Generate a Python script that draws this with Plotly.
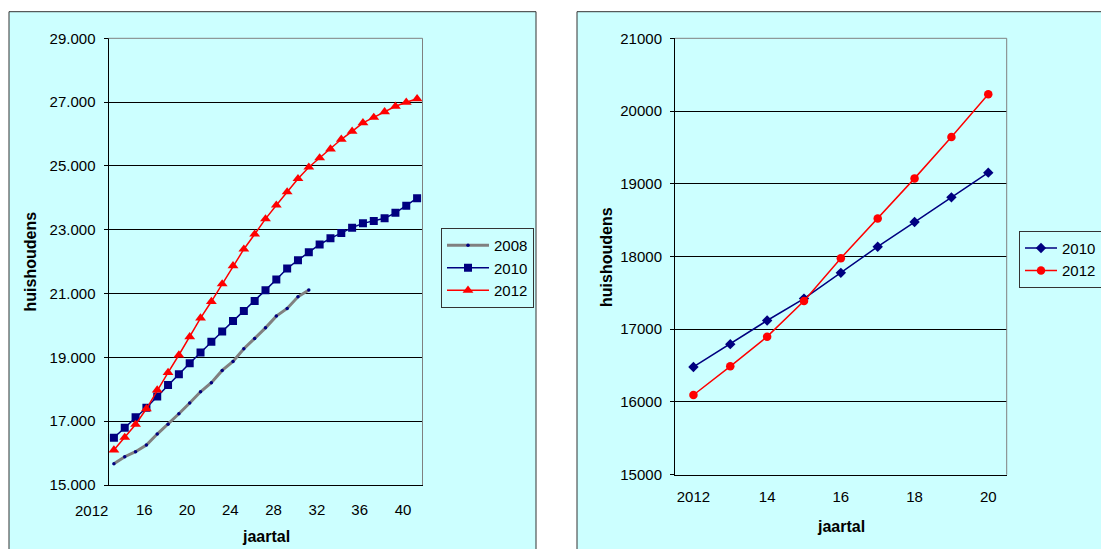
import plotly.graph_objects as go

W, H = 1109, 549
OX, OY = 8, 8   # the page places the figure 8px in from the top-left corner

# ---------------- data ----------------
years_long = list(range(2012, 2041))          # 2012 .. 2040
years_short = list(range(2012, 2021))         # 2012 .. 2020

hh_2008 = [15667, 15886, 16043, 16253, 16597, 16901, 17233, 17568, 17922, 18204,
           18592, 18874, 19269, 19594, 19926, 20293, 20534, 20897, 21110]
hh_2010 = [16481, 16795, 17120, 17421, 17775, 18135, 18474, 18813, 19153, 19488,
           19810, 20136, 20455, 20763, 21107, 21442, 21786, 22047, 22297, 22538,
           22730, 22900, 23065, 23200, 23275, 23360, 23530, 23750, 23990]
hh_2012 = [16096, 16490, 16898, 17389, 17977, 18523, 19074, 19644, 20231, 20750,
           21300, 21870, 22390, 22860, 23340, 23770, 24185, 24600, 24960, 25250,
           25530, 25835, 26085, 26350, 26520, 26695, 26870, 26995, 27105]

left_first_label = "2012"
left_tick_text = ["16", "20", "24", "28", "32", "36", "40"]
right_tick_text = ["2012", "14", "16", "18", "20"]

# ---------------- styling constants ----------------
FONT = "Liberation Sans, Arial, sans-serif"
CYAN = "#CCFFFF"
NAVY = "#000080"
RED = "#FF0000"
GRAY = "#808080"


def fx(p):
    return (p - OX) / W


def fy(p):
    return 1 - (p - OY) / H


fig = go.Figure()

# left chart
fig.add_trace(go.Scatter(x=years_long[:len(hh_2008)], y=hh_2008, name="2008",
                         mode="lines+markers", xaxis="x", yaxis="y",
                         line=dict(color=GRAY, width=3),
                         marker=dict(symbol="circle", size=3.5, color=NAVY),
                         legend="legend"))
fig.add_trace(go.Scatter(x=years_long, y=hh_2010, name="2010",
                         mode="lines+markers", xaxis="x", yaxis="y",
                         line=dict(color=NAVY, width=1.5),
                         marker=dict(symbol="square", size=8, color=NAVY),
                         legend="legend"))
fig.add_trace(go.Scatter(x=years_long, y=hh_2012, name="2012",
                         mode="lines+markers", xaxis="x", yaxis="y",
                         line=dict(color=RED, width=1.5),
                         marker=dict(symbol="triangle-up", size=9.5, color=RED),
                         legend="legend"))

# right chart
fig.add_trace(go.Scatter(x=years_short, y=hh_2010[:len(years_short)], name="2010",
                         mode="lines+markers", xaxis="x2", yaxis="y2",
                         line=dict(color=NAVY, width=1.5),
                         marker=dict(symbol="diamond", size=8, color=NAVY),
                         legend="legend2"))
fig.add_trace(go.Scatter(x=years_short, y=hh_2012[:len(years_short)], name="2012",
                         mode="lines+markers", xaxis="x2", yaxis="y2",
                         line=dict(color=RED, width=1.5),
                         marker=dict(symbol="circle", size=8.5, color=RED),
                         legend="legend2"))

tickfont = dict(family=FONT, size=15, color="#000000")

left_dom_x = [fx(108.5), fx(422.5)]
right_dom_x = [fx(675), fx(1006.7)]
left_range = [years_long[0] - 0.5, years_long[-1] + 0.5]
right_range = [years_short[0] - 0.5, years_short[-1] + 0.5]

left_label_pos = [2014.8, 2018.75, 2022.75, 2026.75, 2030.75, 2034.7, 2038.7]

fig.update_layout(
    width=W, height=H, autosize=False,
    margin=dict(l=0, r=0, t=0, b=0, pad=0, autoexpand=False),
    paper_bgcolor="white", plot_bgcolor=CYAN,
    separators=",.",
    font=dict(family=FONT, size=15, color="#000000"),
    xaxis=dict(domain=left_dom_x, anchor="y", range=left_range,
               tickmode="array", tickvals=left_label_pos, ticktext=left_tick_text,
               ticks="", tickangle=0, showline=True, linecolor="#000000", linewidth=1,
               showgrid=False, zeroline=False, tickfont=tickfont,
               ticklabelstandoff=11, automargin=False),
    xaxis3=dict(overlaying="x", anchor="y", side="bottom", range=left_range,
                tickmode="linear", tick0=left_range[0], dtick=1,
                ticks="outside", ticklen=4, tickcolor="#000000", tickwidth=1,
                showticklabels=False, showline=False, showgrid=False, zeroline=False,
                automargin=False),
    yaxis=dict(domain=[fy(485), fy(38.3)], anchor="x", range=[15000, 29000],
               tickmode="linear", tick0=15000, dtick=2000, tickformat=",d",
               ticks="outside", ticklen=4, tickcolor="#000000",
               showline=True, linecolor="#000000", linewidth=1,
               showgrid=True, gridcolor="#000000", gridwidth=1, zeroline=False,
               tickfont=tickfont, ticklabelstandoff=5, automargin=False),
    xaxis2=dict(domain=right_dom_x, anchor="y2", range=right_range,
                tickmode="array", tickvals=years_short[::2], ticktext=right_tick_text,
                ticks="", tickangle=0, showline=True, linecolor="#000000", linewidth=1,
                showgrid=False, zeroline=False, tickfont=tickfont,
                ticklabelstandoff=8, automargin=False),
    xaxis4=dict(overlaying="x2", anchor="y2", side="bottom", range=right_range,
                tickmode="linear", tick0=right_range[0], dtick=1,
                ticks="outside", ticklen=4, tickcolor="#000000", tickwidth=1,
                showticklabels=False, showline=False, showgrid=False, zeroline=False,
                automargin=False),
    yaxis2=dict(domain=[fy(474.7), fy(38.3)], anchor="x2", range=[15000, 21000],
                tickmode="linear", tick0=15000, dtick=1000, tickformat="d",
                ticks="outside", ticklen=4, tickcolor="#000000",
                showline=True, linecolor="#000000", linewidth=1,
                showgrid=True, gridcolor="#000000", gridwidth=1, zeroline=False,
                tickfont=tickfont, ticklabelstandoff=5, automargin=False),
    legend=dict(x=fx(441), y=fy(228), xanchor="left", yanchor="top",
                bgcolor=CYAN, bordercolor="#333333", borderwidth=1,
                font=dict(family=FONT, size=15, color="#000000"),
                itemwidth=42, tracegroupgap=0, traceorder="normal"),
    legend2=dict(x=fx(1019), y=fy(230.7), xanchor="left", yanchor="top",
                 bgcolor=CYAN, bordercolor="#333333", borderwidth=1,
                 font=dict(family=FONT, size=15, color="#000000"),
                 itemwidth=32, tracegroupgap=0, traceorder="normal"),
    showlegend=True,
)

shapes = [
    # panel backgrounds
    dict(type="rect", xref="paper", yref="paper", x0=fx(9), x1=fx(536), y0=-0.1, y1=fy(11.7),
         fillcolor=CYAN, line=dict(color="#333333", width=1), layer="below"),
    dict(type="rect", xref="paper", yref="paper", x0=fx(577), x1=fx(1130), y0=-0.1, y1=fy(11.7),
         fillcolor=CYAN, line=dict(color="#333333", width=1), layer="below"),
]
# gray top / right plot-area borders
for xr, yr in (("x", "y"), ("x2", "y2")):
    shapes.append(dict(type="line", xref=xr + " domain", yref=yr + " domain",
                       x0=0, x1=1, y0=1, y1=1, line=dict(color=GRAY, width=1), layer="above"))
    shapes.append(dict(type="line", xref=xr + " domain", yref=yr + " domain",
                       x0=1, x1=1, y0=0, y1=1, line=dict(color=GRAY, width=1), layer="above"))
fig.update_layout(shapes=shapes)

title_font = dict(family=FONT, size=16, color="#000000")
annots = [
    dict(text="<b>huishoudens</b>", x=fx(30.5), y=fy(262), textangle=-90),
    dict(text="<b>huishoudens</b>", x=fx(606), y=fy(257), textangle=-90),
    dict(text="<b>jaartal</b>", x=fx(265.5), y=fy(536.7)),
    dict(text="<b>jaartal</b>", x=fx(841), y=fy(526)),
]
for a in annots:
    a.update(xref="paper", yref="paper", showarrow=False, font=title_font,
             xanchor="center", yanchor="middle")
# first category label of the left axis sits right-aligned at the axis start
annots.append(dict(text=left_first_label, xref="x", yref="paper", x=left_range[0],
                   y=fy(510.5), xanchor="right", yanchor="middle", xshift=1,
                   showarrow=False, font=tickfont))
fig.update_layout(annotations=annots)

fig.write_html("out.html")
